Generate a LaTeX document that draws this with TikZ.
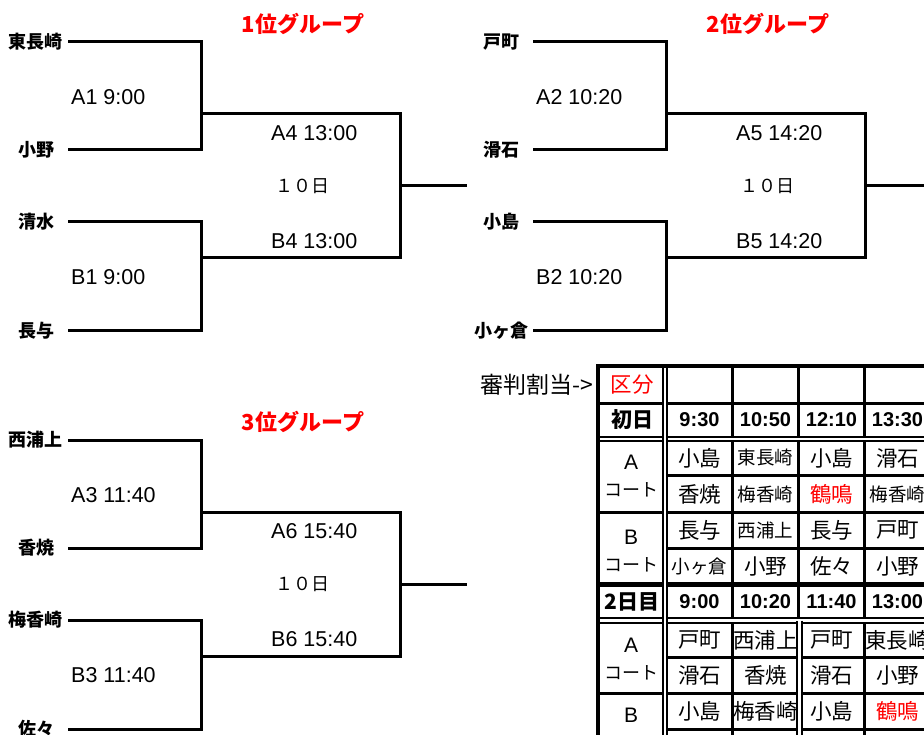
\documentclass[tikz,border=0pt]{standalone}
\usepackage{fontspec}
\setmainfont{Liberation Sans}
\newfontfamily\jp{Noto Sans CJK JP}
\tikzset {
  bracket path/.style = {
    draw = black,
    line width = 3pt
  },
  % single line of the referee table
  cell line/.style = {
    draw = black,
    line width = 3pt
  },
  % double line of the referee table
  double line/.style = {
    draw = black,
    double = white,
    double distance = 2.2pt,
    line width = 2.2pt
  },
  frame line/.style = {
    draw = black,
    line width = 4.5pt
  }
}
\tikzset {
  % team at the start of a bracket
  team/.style = {
    inner sep = 0,
    font = {\jp\bfseries\fontsize{18}{18}\selectfont}
  },
  % match number and start time
  match/.style = {
    anchor = west,
    inner sep = 0,
    font = {\fontsize{21.5}{21.5}\selectfont}
  },
  day/.style = {
    inner sep = 0,
    font = {\jp\fontsize{18}{18}\selectfont}
  },
  group title/.style = {
    inner sep = 0,
    text = red,
    font = {\jp\bfseries\fontsize{22}{22}\selectfont}
  },
  note/.style = {
    inner sep = 0,
    font = {\jp\fontsize{23}{23}\selectfont}
  },
  % table cells
  club/.style = {
    inner sep = 0,
    font = {\jp\fontsize{21.5}{21.5}\selectfont}
  },
  sclub/.style = {
    club,
    font = {\jp\fontsize{18.5}{18.5}\selectfont}
  },
  rclub/.style = {
    club,
    text = red
  },
  slot/.style = {
    inner sep = 0,
    font = {\bfseries\fontsize{20}{20}\selectfont}
  },
  dayhead/.style = {
    inner sep = 0,
    font = {\jp\bfseries\fontsize{21}{21}\selectfont}
  },
  court/.style = {
    inner sep = 0,
    font = {\fontsize{21}{21}\selectfont}
  },
  courtjp/.style = {
    inner sep = 0,
    font = {\jp\fontsize{18}{18}\selectfont}
  }
}

\begin{document}
\begin{tikzpicture}[x = 1pt, y = -1pt]
    \useasboundingbox (0, 0) rectangle (924, 735);
    \clip (0, 0) rectangle (924, 735);

    % the three group brackets
    \foreach \g/\dx/\dy/\ta/\tb/\tc/\td/\ma/\mb/\mc/\md in {
        1/0/0/東長崎/小野/清水/長与/A1 9:00/B1 9:00/A4 13:00/B4 13:00,
        2/465/0/戸町/滑石/小島/小ヶ倉/A2 10:20/B2 10:20/A5 14:20/B5 14:20,
        3/0/398/西浦上/香焼/梅香崎/佐々/A3 11:40/B3 11:40/A6 15:40/B6 15:40} {
      \begin{scope}[shift = {(\dx, \dy)}]
        \node[group title] (g\g-title) at (303, 24) {\g 位グループ};

        \node[team] (g\g-t1) at (36, 42) {\ta};
        \node[team] (g\g-t2) at (36, 150) {\tb};
        \node[team] (g\g-t3) at (36, 222) {\tc};
        \node[team] (g\g-t4) at (36, 331) {\td};

        \coordinate (g\g-s1) at (68, 42);
        \coordinate (g\g-s2) at (68, 150);
        \coordinate (g\g-s3) at (68, 222);
        \coordinate (g\g-s4) at (68, 331);
        \coordinate (g\g-j1) at (201, 114);
        \coordinate (g\g-j2) at (201, 258);
        \coordinate (g\g-f) at (400, 186);
        \coordinate (g\g-out) at (467, 186);

        \node[match] (g\g-m1) at (71, 97) {\ma};
        \node[match] (g\g-m2) at (71, 277) {\mb};
        \node[match] (g\g-m3) at (271, 133) {\mc};
        \node[day] (g\g-day) at (302, 186) {１０日};
        \node[match] (g\g-m4) at (271, 241) {\md};

        \draw [bracket path] (g\g-s1) -| (g\g-j1) |- (g\g-s2);
        \draw [bracket path] (g\g-s3) -| (g\g-j2) |- (g\g-s4);
        \draw [bracket path] (g\g-j1) -| (g\g-f) |- (g\g-j2);
        \draw [bracket path] (g\g-f) -- (g\g-out);
      \end{scope}
    }

    % referee table
    \node[note, anchor = east] (referee) at (593, 385) {審判割当->};

    \foreach \y in {403, 512, 693}
      \draw [cell line] (598, \y) -- (932, \y);
    \foreach \y in {475, 548, 657, 729}
      \draw [cell line] (665, \y) -- (932, \y);
    \draw [cell line, line width = 5pt] (598, 584) -- (932, 584);
    \foreach \x in {732, 798, 864}
      \draw [cell line] (\x, 366) -- (\x, 770);
    \foreach \y in {439, 620.5}
      \draw [double line] (598, \y) -- (932, \y);
    \draw [double line] (665, 366) -- (665, 770);
    \draw [double line] (799.5, 620.5) -- (799.5, 770);
    \draw [frame line] (598, 366) rectangle (940, 780);

    \node[rclub] (kubun) at (632, 385) {区分};

    % first day
    \node[dayhead] (day1) at (632, 420) {初日};
    \foreach \nm [count = \c] in {9:30, 10:50, 12:10, 13:30}
      \node[slot] (day1-\c) at ({633.5 + 66 * \c}, 420) {\nm};
    \node[court] (d1-a) at (631, 462) {A};
    \node[courtjp] (d1-a-jp) at (631, 490) {コート};
    \node[court] (d1-b) at (631, 537) {B};
    \node[courtjp] (d1-b-jp) at (631, 565) {コート};
    \foreach \st/\nm [count = \c] in {club/小島, sclub/東長崎, club/小島, club/滑石}
      \node[\st] (d1-a1-\c) at ({633.5 + 66 * \c}, 458) {\nm};
    \foreach \st/\nm [count = \c] in {club/香焼, sclub/梅香崎, rclub/鶴鳴, sclub/梅香崎}
      \node[\st] (d1-a2-\c) at ({633.5 + 66 * \c}, 494) {\nm};
    \foreach \st/\nm [count = \c] in {club/長与, sclub/西浦上, club/長与, club/戸町}
      \node[\st] (d1-b1-\c) at ({633.5 + 66 * \c}, 530) {\nm};
    \foreach \st/\nm [count = \c] in {sclub/小ヶ倉, club/小野, club/佐々, club/小野}
      \node[\st] (d1-b2-\c) at ({633.5 + 66 * \c}, 566) {\nm};

    % second day
    \node[dayhead] (day2) at (632, 602) {2日目};
    \foreach \nm [count = \c] in {9:00, 10:20, 11:40, 13:00}
      \node[slot] (day2-\c) at ({633.5 + 66 * \c}, 602) {\nm};
    \node[court] (d2-a) at (631, 645) {A};
    \node[courtjp] (d2-a-jp) at (631, 673) {コート};
    \node[court] (d2-b) at (631, 715) {B};
    \node[courtjp] (d2-b-jp) at (631, 743) {コート};
    \foreach \st/\nm [count = \c] in {club/戸町, club/西浦上, club/戸町, club/東長崎}
      \node[\st] (d2-a1-\c) at ({633.5 + 66 * \c}, 640) {\nm};
    \foreach \st/\nm [count = \c] in {club/滑石, club/香焼, club/滑石, club/小野}
      \node[\st] (d2-a2-\c) at ({633.5 + 66 * \c}, 675) {\nm};
    \foreach \st/\nm [count = \c] in {club/小島, club/梅香崎, club/小島, rclub/鶴鳴}
      \node[\st] (d2-b1-\c) at ({633.5 + 66 * \c}, 711) {\nm};
  \end{tikzpicture}
\end{document}
